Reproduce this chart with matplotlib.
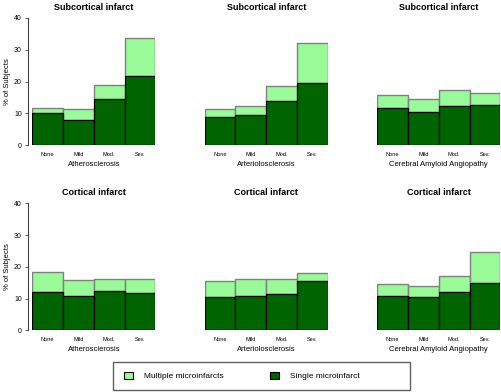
import matplotlib
matplotlib.use('agg')
import matplotlib.pyplot as pyplot
from matplotlib.patches import Rectangle, Patch

pyplot.rcParams['font.family'] = ['Liberation Sans', 'DejaVu Sans']

# Data (% of subjects)
categories = ['None', 'Mild', 'Mod.', 'Sev.']
pathologies = ['Atherosclerosis', 'Arteriolosclerosis', 'Cerebral Amyloid Angiopathy']
rowTitles = ['Subcortical infarct', 'Cortical infarct']

subAthSingle = [10.2, 8.0, 14.5, 21.6]
subAthMultiple = [1.3, 3.2, 4.3, 12.0]
subArtSingle = [8.9, 9.6, 13.9, 19.5]
subArtMultiple = [2.3, 2.7, 4.8, 12.7]
subCaaSingle = [11.5, 10.5, 12.4, 12.7]
subCaaMultiple = [4.3, 3.9, 4.8, 3.7]

corAthSingle = [12.1, 10.7, 12.3, 11.6]
corAthMultiple = [6.4, 5.0, 3.9, 4.6]
corArtSingle = [10.4, 10.9, 11.4, 15.5]
corArtMultiple = [5.2, 5.4, 4.9, 2.7]
corCaaSingle = [10.7, 10.4, 12.2, 14.8]
corCaaMultiple = [4.0, 3.6, 5.0, 10.0]

singles = [[subAthSingle, subArtSingle, subCaaSingle],
           [corAthSingle, corArtSingle, corCaaSingle]]
multiples = [[subAthMultiple, subArtMultiple, subCaaMultiple],
             [corAthMultiple, corArtMultiple, corCaaMultiple]]

darkGreen = '#006400'
lightGreen = '#98fb98'

W, H = 502.0, 392.0
fig = pyplot.figure(figsize=(W / 100, H / 100), dpi=100)

colLefts = [32.3, 204.7, 377.3]
barsWidth = 123.0
rowTops = [18.0, 203.3]
rowHeight = 127.0

for r in range(2):
    for c in range(3):
        left = colLefts[c] / W
        bottom = (H - rowTops[r] - rowHeight) / H
        ax = fig.add_axes([left, bottom, barsWidth / W, rowHeight / H])

        xs = range(len(categories))
        single = singles[r][c]
        multiple = multiples[r][c]
        ax.bar(xs, multiple, width=1.0, bottom=single, color=lightGreen,
               edgecolor='#808080', linewidth=1.0)
        ax.bar(xs, single, width=1.0, color=darkGreen,
               edgecolor='black', linewidth=0.9)

        ax.set_xlim(-0.5, 3.5)
        ax.set_ylim(0, 40)
        for side in ['top', 'right', 'bottom']:
            ax.spines[side].set_visible(False)

        ax.set_xticks(list(xs))
        ax.set_xticklabels(categories, fontsize=4)
        ax.tick_params(axis='x', length=0, pad=5)
        ax.set_xlabel(pathologies[c], fontsize=5.5, labelpad=3)
        ax.set_title(rowTitles[r], fontsize=6.5, fontweight='bold', pad=6)

        if c == 0:
            ax.spines['left'].set_position(('outward', 3))
            ax.spines['left'].set_color('#404040')
            ax.spines['left'].set_linewidth(0.8)
            ax.set_yticks([0, 10, 20, 30, 40])
            ax.tick_params(axis='y', labelsize=5, length=2.5, width=0.6,
                           color='#404040', pad=2)
            ax.set_ylabel('% of Subjects', fontsize=5.5, labelpad=2)
        else:
            ax.spines['left'].set_visible(False)
            ax.set_yticks([])

# Legend box
box = Rectangle((113 / W, 2 / H), 297 / W, 28 / H, transform=fig.transFigure,
                fill=False, edgecolor='#606060', linewidth=1.0)
fig.patches.append(box)

handles = [Patch(facecolor=lightGreen, edgecolor='black', linewidth=0.8),
           Patch(facecolor=darkGreen, edgecolor='black', linewidth=0.8)]
fig.legend(handles, ['Multiple microinfarcts', 'Single microinfarct'],
           loc='center left', bbox_to_anchor=(124 / W, 16 / H), ncol=2,
           frameon=False, fontsize=6, borderpad=0, borderaxespad=0,
           handlelength=1.1, handleheight=1.0, handletextpad=1.3,
           columnspacing=5.6)

pyplot.savefig('out.png', dpi=100)
pyplot.close()
